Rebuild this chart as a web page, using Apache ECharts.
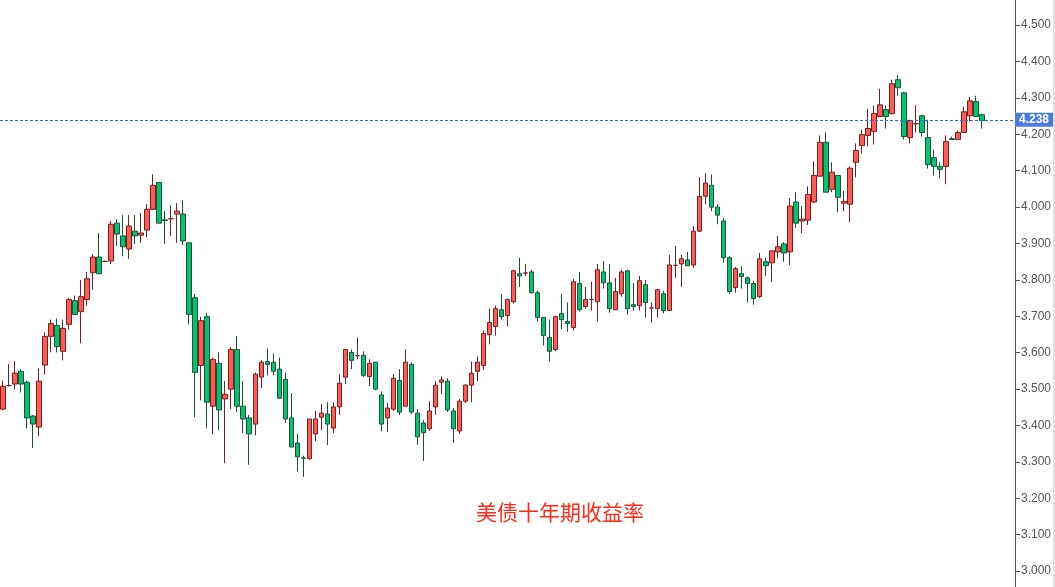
<!DOCTYPE html>
<html><head><meta charset="utf-8">
<script src="https://cdn.jsdelivr.net/npm/echarts@6/dist/echarts.min.js"></script>
<style>html,body{margin:0;padding:0;background:#fff;}#c{width:1055px;height:587px;}</style>
</head><body><div id="c"></div>
<script>
const opens = [3.445,3.510,3.514,3.549,3.519,3.426,3.396,3.566,3.645,3.675,3.604,3.678,3.743,3.713,3.746,3.820,3.863,3.851,3.852,3.956,3.921,3.885,3.934,3.923,3.937,3.994,4.068,3.965,3.968,3.981,3.981,3.902,3.751,3.565,3.699,3.453,3.571,3.473,3.500,3.609,3.453,3.421,3.404,3.533,3.576,3.574,3.555,3.527,3.421,3.352,3.311,3.309,3.377,3.423,3.432,3.393,3.451,3.533,3.601,3.592,3.593,3.535,3.574,3.484,3.421,3.445,3.524,3.453,3.568,3.434,3.407,3.391,3.451,3.519,3.522,3.440,3.385,3.467,3.511,3.549,3.565,3.650,3.672,3.718,3.702,3.740,3.817,3.819,3.822,3.765,3.697,3.642,3.609,3.708,3.686,3.669,3.790,3.727,3.746,3.740,3.822,3.792,3.718,3.762,3.825,3.732,3.729,3.787,3.723,3.721,3.762,3.716,3.840,3.844,3.855,3.841,3.934,4.030,4.060,4.000,3.962,3.861,3.779,3.817,3.806,3.790,3.754,3.850,3.847,3.877,3.899,3.877,4.014,3.962,3.964,4.014,4.085,4.178,4.049,4.087,4.011,4.008,4.123,4.169,4.197,4.208,4.249,4.268,4.257,4.350,4.314,4.191,4.229,4.251,4.191,4.136,4.112,4.112,4.188,4.186,4.205,4.251,4.290,4.254];
const closes = [3.508,3.510,3.544,3.514,3.421,3.404,3.522,3.645,3.680,3.617,3.667,3.746,3.705,3.754,3.803,3.863,3.817,3.851,3.953,3.926,3.891,3.948,3.921,3.929,3.994,4.060,3.956,3.963,3.968,3.989,3.907,3.705,3.546,3.688,3.464,3.582,3.443,3.486,3.609,3.453,3.418,3.377,3.541,3.574,3.568,3.549,3.475,3.418,3.341,3.314,3.310,3.418,3.418,3.434,3.404,3.451,3.516,3.609,3.579,3.592,3.538,3.571,3.500,3.404,3.448,3.530,3.437,3.574,3.437,3.369,3.380,3.440,3.511,3.525,3.443,3.391,3.467,3.511,3.544,3.574,3.653,3.683,3.721,3.699,3.746,3.825,3.811,3.819,3.765,3.697,3.647,3.604,3.699,3.691,3.680,3.795,3.718,3.746,3.746,3.828,3.792,3.721,3.768,3.822,3.721,3.727,3.798,3.738,3.723,3.773,3.716,3.841,3.840,3.858,3.839,3.934,4.030,4.066,4.000,3.978,3.861,3.768,3.831,3.809,3.790,3.749,3.858,3.839,3.880,3.891,3.874,4.003,3.956,3.967,4.035,4.087,4.178,4.041,4.096,4.027,4.016,4.107,4.156,4.199,4.216,4.257,4.281,4.249,4.339,4.328,4.194,4.238,4.229,4.205,4.117,4.112,4.104,4.180,4.186,4.205,4.262,4.292,4.249,4.238];
const lows = [3.442,3.507,3.499,3.491,3.392,3.338,3.371,3.540,3.601,3.601,3.579,3.664,3.705,3.626,3.729,3.773,3.817,3.849,3.844,3.893,3.865,3.858,3.899,3.902,3.918,3.992,3.956,3.899,3.921,3.902,3.896,3.678,3.423,3.469,3.392,3.376,3.387,3.297,3.445,3.437,3.379,3.292,3.373,3.503,3.538,3.538,3.475,3.407,3.341,3.273,3.259,3.306,3.357,3.387,3.346,3.379,3.429,3.514,3.555,3.582,3.533,3.508,3.497,3.384,3.382,3.440,3.429,3.453,3.432,3.347,3.303,3.385,3.429,3.486,3.437,3.352,3.377,3.462,3.464,3.522,3.552,3.623,3.647,3.691,3.672,3.735,3.781,3.811,3.762,3.686,3.620,3.576,3.604,3.664,3.658,3.661,3.713,3.721,3.716,3.686,3.776,3.710,3.718,3.754,3.705,3.716,3.716,3.697,3.683,3.697,3.708,3.716,3.806,3.781,3.839,3.833,3.932,4.008,3.989,3.953,3.847,3.762,3.765,3.776,3.738,3.732,3.751,3.811,3.794,3.861,3.850,3.841,3.943,3.929,3.951,4.011,4.085,4.041,4.041,3.986,3.989,3.959,4.082,4.147,4.167,4.172,4.249,4.216,4.254,4.306,4.186,4.175,4.205,4.194,4.106,4.087,4.079,4.063,4.185,4.186,4.205,4.235,4.249,4.216];
const highs = [3.523,3.569,3.577,3.555,3.523,3.429,3.557,3.656,3.691,3.694,3.691,3.751,3.757,3.800,3.822,3.871,3.929,3.853,3.962,3.967,3.978,3.978,3.978,3.984,4.008,4.090,4.068,3.989,4.005,4.011,4.019,3.902,3.762,3.699,3.710,3.587,3.601,3.522,3.615,3.645,3.522,3.429,3.546,3.579,3.612,3.598,3.587,3.546,3.489,3.377,3.317,3.418,3.440,3.459,3.464,3.464,3.541,3.609,3.609,3.642,3.604,3.582,3.574,3.494,3.462,3.541,3.555,3.609,3.574,3.445,3.415,3.467,3.522,3.535,3.530,3.448,3.473,3.514,3.576,3.590,3.661,3.721,3.729,3.762,3.749,3.828,3.861,3.844,3.828,3.771,3.697,3.691,3.702,3.762,3.738,3.803,3.822,3.781,3.795,3.844,3.852,3.844,3.806,3.828,3.828,3.792,3.811,3.800,3.738,3.776,3.770,3.869,3.893,3.869,3.877,3.948,4.082,4.093,4.090,4.008,3.970,3.866,3.836,3.837,3.809,3.798,3.874,3.861,3.880,3.921,3.904,4.025,4.041,4.003,4.057,4.126,4.197,4.205,4.123,4.087,4.044,4.112,4.175,4.213,4.270,4.279,4.325,4.279,4.350,4.363,4.317,4.240,4.281,4.254,4.240,4.158,4.123,4.197,4.194,4.210,4.276,4.303,4.306,4.257];
const yTicks = [3.0,3.1,3.2,3.3,3.4,3.5,3.6,3.7,3.8,3.9,4.0,4.1,4.2,4.3,4.4,4.5];
const lastPrice = 4.238;
const titleText = '美债十年期收益率';
const emptyTail = 5;

const categories = [];
for (let i = 0; i < opens.length + emptyTail; i++) categories.push(String(i + 1));
const kdata = opens.map((o, i) => [o, closes[i], lows[i], highs[i]]);

const chart = echarts.init(document.getElementById('c'));
chart.setOption({
  backgroundColor: '#fff',
  animation: false,
  title: {
    text: titleText, left: 471, top: 497,
    textStyle: { color: '#ff2a1a', fontSize: 21, fontWeight: 'normal', fontFamily: '"Noto Sans CJK SC", sans-serif' }
  },
  grid: { left: 0, right: 40, top: 0, bottom: 0 },
  xAxis: {
    type: 'category', data: categories, boundaryGap: true, show: false
  },
  yAxis: {
    type: 'value', position: 'right', scale: true,
    min: 3.0 - 15.87 / 364, max: 4.5 + 25.13 / 364,
    splitLine: { show: false },
    axisLine: { show: true, lineStyle: { color: '#555', width: 1 } },
    axisTick: { show: true, length: 5, lineStyle: { color: '#555' }, customValues: yTicks },
    axisLabel: {
      customValues: yTicks, margin: 6, color: '#555', fontSize: 12,
      fontFamily: '"Liberation Sans", Arial, sans-serif',
      formatter: v => v.toFixed(3)
    }
  },
  graphic: [{ type: 'rect', right: 0, top: 0, shape: { width: 2, height: 587 }, style: { fill: '#e2e2e2' } }],
  series: [{
    type: 'candlestick', data: kdata, barWidth: 5,
    itemStyle: {
      color: '#ff5b55', color0: '#00c46e',
      borderColor: '#7a1f1f', borderColor0: '#1d5238', borderColorDoji: '#7a1f1f', borderWidth: 1
    },
    markLine: {
      silent: true, symbol: ['none', 'none'],
      lineStyle: { color: '#2f62e6', type: [3, 2], width: 1 },
      label: {
        show: true, position: 'end', distance: 0, formatter: () => lastPrice.toFixed(3),
        backgroundColor: '#4a7be5', color: '#fff', fontSize: 12, fontWeight: 'bold',
        fontFamily: '"Liberation Sans", Arial, sans-serif', padding: [1, 4, 1, 4]
      },
      data: [{ yAxis: lastPrice }]
    }
  }]
});
</script></body></html>
